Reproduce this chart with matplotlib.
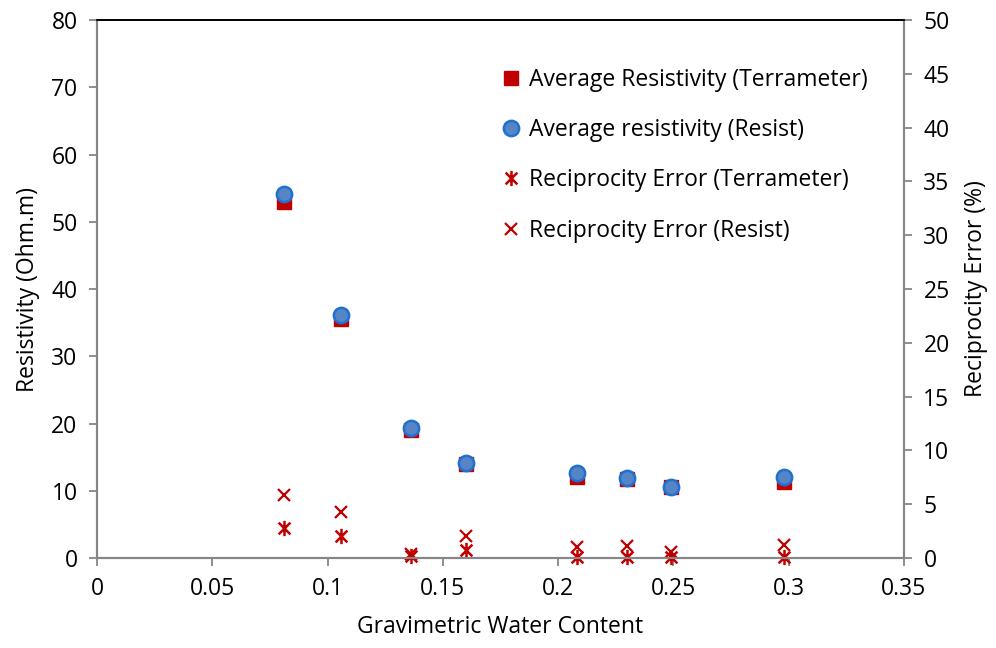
import matplotlib
matplotlib.use("Agg")
import matplotlib.pyplot as plt
from matplotlib.path import Path

plt.rcParams['font.family'] = ['Open Sans', 'DejaVu Sans']

# data
water = [0.081, 0.106, 0.136, 0.160, 0.208, 0.230, 0.249, 0.298]
res_terra = [53.0, 35.5, 19.0, 14.0, 12.1, 11.8, 10.5, 11.3]
res_resist = [54.1, 36.1, 19.3, 14.2, 12.6, 11.9, 10.6, 12.1]
err_terra = [2.8, 2.0, 0.2, 0.7, 0.05, 0.1, 0.1, 0.05]
err_resist = [5.9, 4.3, 0.4, 2.0, 1.05, 1.1, 0.6, 1.2]

red = '#C00000'
blue = '#5585C4'
grey = '#868686'
fs = 16.5

# excel style asterisk: x plus vertical bar
ast = Path([(-1, -1), (1, 1), (-1, 1), (1, -1), (0, -1.3), (0, 1.3)],
           [Path.MOVETO, Path.LINETO, Path.MOVETO, Path.LINETO, Path.MOVETO, Path.LINETO])

fig = plt.figure(figsize=(9.96, 6.48), dpi=100)
ax = fig.add_axes([0.0974, 0.1389, 0.8102, 0.8301])
ax2 = ax.twinx()

l1, = ax.plot(water, res_terra, 's', color=red, markersize=10.5, linestyle='none', clip_on=False, zorder=3)
l2, = ax.plot(water, res_resist, 'o', markerfacecolor=blue, markeredgecolor='#1F70D0',
              markeredgewidth=1.8, markersize=11, linestyle='none', clip_on=False, zorder=4)
l3, = ax2.plot(water, err_terra, marker=ast, markerfacecolor='none', markeredgecolor=red,
               markeredgewidth=1.8, markersize=11, linestyle='none', clip_on=False)
l4, = ax2.plot(water, err_resist, 'x', color=red, markeredgewidth=1.6, markersize=9,
               linestyle='none', clip_on=False)

ax.set_xlim(0, 0.35)
ax.set_ylim(0, 80)
ax2.set_ylim(0, 50)
ax.set_xticks([0, 0.05, 0.1, 0.15, 0.2, 0.25, 0.3, 0.35])
ax.set_xticklabels(['0', '0.05', '0.1', '0.15', '0.2', '0.25', '0.3', '0.35'])
ax.set_yticks(range(0, 81, 10))
ax2.set_yticks(range(0, 51, 5))

for a in (ax, ax2):
    a.spines['top'].set_color('black')
    a.spines['top'].set_linewidth(1.3)
    for s in ('left', 'right', 'bottom'):
        a.spines[s].set_color(grey)
        a.spines[s].set_linewidth(1.5)
    a.tick_params(colors=grey, labelcolor='black', labelsize=fs, direction='out', length=6, width=1.3, pad=8)

ax.set_xlabel('Gravimetric Water Content', fontsize=fs, labelpad=10)
ax.set_ylabel('Resistivity (Ohm.m)', fontsize=fs, labelpad=8)
ax2.set_ylabel('Reciprocity Error (%)', fontsize=fs, labelpad=10)

ax.legend([l1, l2, l3, l4],
          ['Average Resistivity (Terrameter)', 'Average resistivity (Resist)',
           'Reciprocity Error (Terrameter)', 'Reciprocity Error (Resist)'],
          loc='upper left', bbox_to_anchor=(0.476, 0.95), frameon=False, fontsize=fs,
          handlelength=0.8, handletextpad=0.4, labelspacing=1.15, numpoints=1)

fig.savefig('out.png', dpi=100)
